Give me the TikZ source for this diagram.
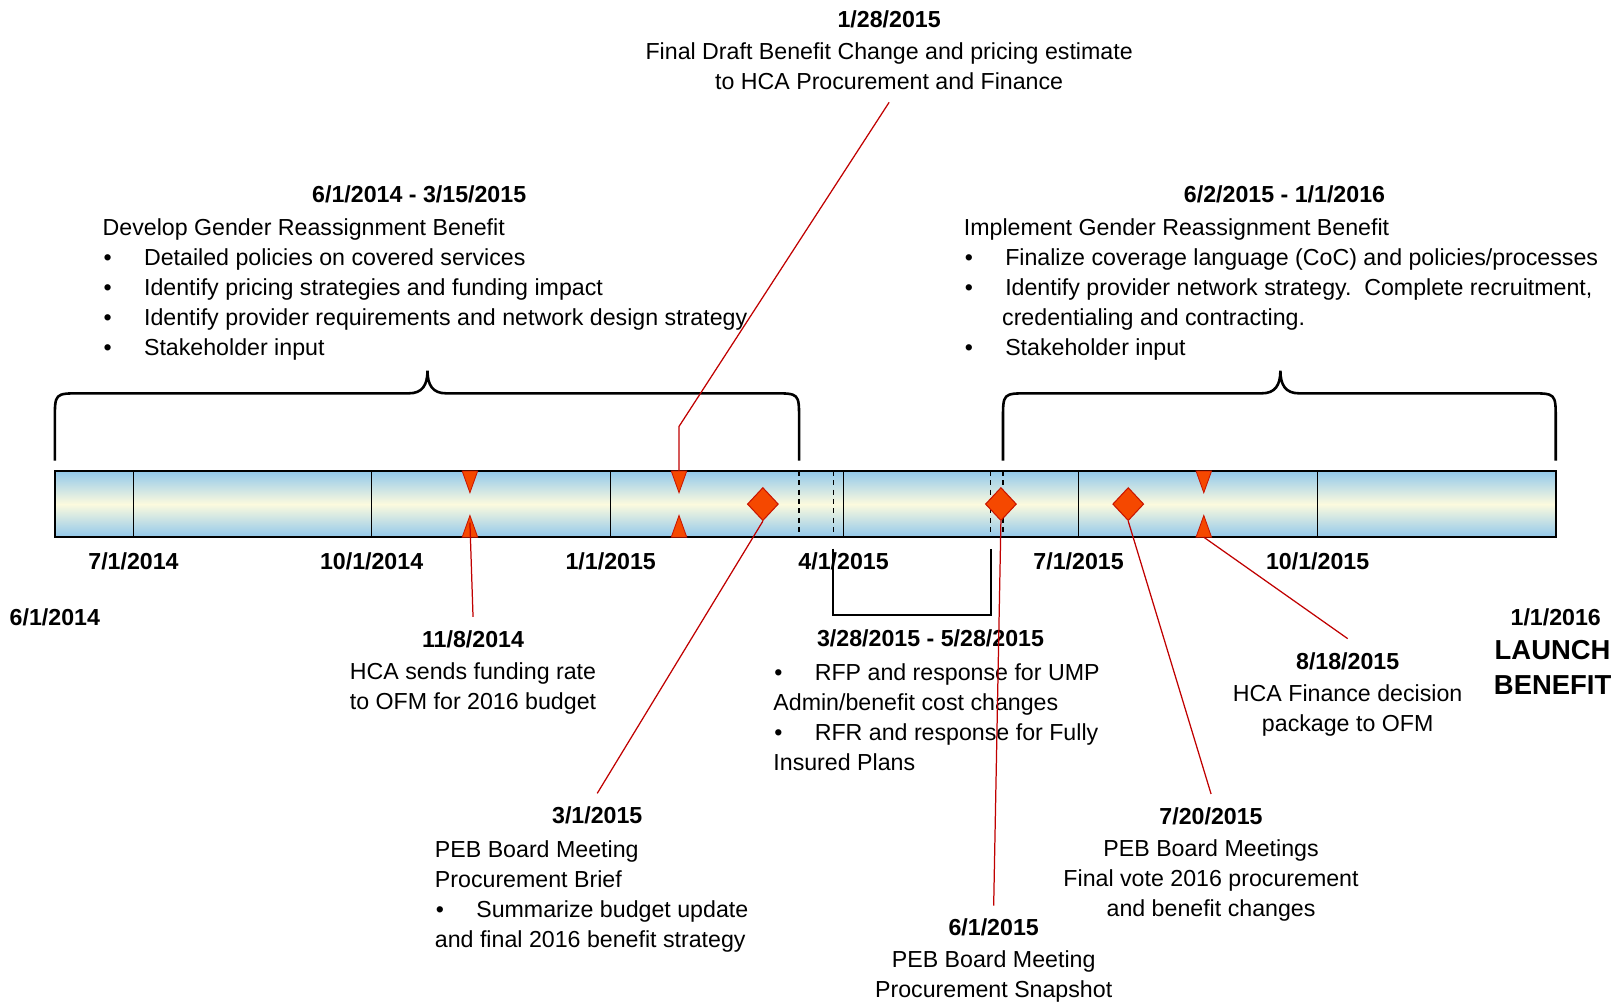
\documentclass[tikz,border=0pt]{standalone}
\usepackage{fontspec}
\setmainfont{Liberation Sans}
\usetikzlibrary{shapes.geometric}

\definecolor{barblue}{RGB}{145,200,235}
\definecolor{barcream}{RGB}{252,250,222}
\definecolor{markerfill}{RGB}{245,72,0}
\definecolor{markeredge}{RGB}{200,20,0}
\definecolor{connred}{RGB}{192,0,0}

\newcommand{\tlbullet}{\makebox[40pt][l]{\hspace{1pt}\textbullet}}

\begin{document}
\begin{tikzpicture}[x=1pt, y=-1pt,
    every node/.style={font=\fontsize{22.4}{29}\selectfont},
    datelbl/.style={font=\fontsize{22.4}{29}\selectfont\bfseries},
    txtblock/.style={inner sep=0pt, align=left},
    ctrblock/.style={inner sep=0pt, align=center, anchor=north},
    tick/.style={line width=1.3pt},
    brace/.style={line width=2.5pt},
    diam/.style={shape=diamond, draw=markeredge, fill=markerfill, line width=1pt,
                 minimum width=30pt, minimum height=32pt, inner sep=0pt},
    tri/.style={draw=markeredge, fill=markerfill, line width=0.8pt},
    conn/.style={draw=connred, line width=1.2pt}]

    \useasboundingbox (0,0) rectangle (1568,969);

    % timeline bar
    \shade[top color=barblue, bottom color=barblue, middle color=barcream] (53,455) rectangle (1503,519);
    \foreach \x in {129,359,590,815,1042,1273}
        \draw[tick] (\x,455) -- (\x,519);
    \foreach \x in {772,805,957,969}
        \draw[tick, dash pattern=on 5pt off 4pt] (\x,455) -- (\x,519);
    \draw[line width=2pt] (53,455) rectangle (1503,519);

    % braces
    \draw[brace] (53,445) -- (53,405) .. controls (53,380) .. (78,380) -- (395,380)
        .. controls (408,380) and (413,372) .. (413,358)
        .. controls (413,372) and (418,380) .. (431,380) -- (747,380)
        .. controls (772,380) .. (772,405) -- (772,445);
    \draw[brace] (969,445) -- (969,405) .. controls (969,380) .. (994,380) -- (1219,380)
        .. controls (1232,380) and (1237,372) .. (1237,358)
        .. controls (1237,372) and (1242,380) .. (1255,380) -- (1478,380)
        .. controls (1503,380) .. (1503,405) -- (1503,445);
    \draw[line width=2pt] (805,530) -- (805,594) -- (957,594) -- (957,530);

    % markers
    \foreach \x in {454,656,1163} {
        \draw[tri] (\x-7.5,455) -- (\x+7.5,455) -- (\x,476) -- cycle;
        \draw[tri] (\x-7.5,519) -- (\x+7.5,519) -- (\x,498) -- cycle;
    }
    \coordinate (m128) at (656,455);
    \coordinate (m1108) at (454,505);
    \coordinate (m818) at (1163,519);
    \node[diam] (dm301) at (737,487) {};
    \node[diam] (dm601) at (967,487) {};
    \node[diam] (dm720) at (1090,487) {};

    % dates along the bar
    \node[datelbl] (d0701) at (129,542) {7/1/2014};
    \node[datelbl] (d1001) at (359,542) {10/1/2014};
    \node[datelbl] (d0101) at (590,542) {1/1/2015};
    \node[datelbl] (d0401) at (815,542) {4/1/2015};
    \node[datelbl] (d0715) at (1042,542) {7/1/2015};
    \node[datelbl] (d1015) at (1273,542) {10/1/2015};
    \node[datelbl] (start) at (53,596) {6/1/2014};
    \node[datelbl] (end) at (1503,596) {1/1/2016};
    \node[font=\fontsize{26.5}{34}\selectfont\bfseries, ctrblock] (launch) at (1500,618) {LAUNCH\\BENEFIT};

    % top texts
    \node[ctrblock] (n128) at (859,10) {\textbf{1/28/2015}\\[2pt]
        Final Draft Benefit Change and pricing estimate\\
        to HCA Procurement and Finance};
    \node[datelbl] (p1) at (405,188) {6/1/2014 - 3/15/2015};
    \node[txtblock, anchor=north west] (p1txt) at (99,211) {Develop Gender Reassignment Benefit\\
        \tlbullet Detailed policies on covered services\\
        \tlbullet Identify pricing strategies and funding impact\\
        \tlbullet Identify provider requirements and network design strategy\\
        \tlbullet Stakeholder input};
    \node[datelbl] (p2) at (1241,188) {6/2/2015 - 1/1/2016};
    \node[txtblock, anchor=north west] (p2txt) at (931,211) {Implement Gender Reassignment Benefit\\
        \tlbullet Finalize coverage language (CoC) and policies/processes\\
        \tlbullet Identify provider network strategy.\ \ Complete recruitment,\\
        \hspace*{37pt}credentialing and contracting.\\
        \tlbullet Stakeholder input};

    % bottom texts
    \node[ctrblock] (n1108) at (457,609) {\textbf{11/8/2014}\\[2pt]
        HCA sends funding rate\\
        to OFM for 2016 budget};
    \node[datelbl] (p3) at (899,617) {3/28/2015 - 5/28/2015};
    \node[txtblock, anchor=north west] (p3txt) at (747,641) {\tlbullet RFP and response for UMP\\
        Admin/benefit cost changes\\
        \tlbullet RFR and response for Fully\\
        Insured Plans};
    \node[ctrblock] (n0818) at (1302,630) {\textbf{8/18/2015}\\[2pt]
        HCA Finance decision\\
        package to OFM};
    \node[datelbl, inner sep=0pt] (t0301) at (577,788) {3/1/2015};
    \node[txtblock, anchor=north west] (n0301) at (420,812) {PEB Board Meeting\\
        Procurement Brief\\
        \tlbullet Summarize budget update\\
        and final 2016 benefit strategy};
    \node[ctrblock] (n0720) at (1170,780) {\textbf{7/20/2015}\\[2pt]
        PEB Board Meetings\\
        Final vote 2016 procurement\\
        and benefit changes};
    \node[ctrblock] (n0601) at (960,887) {\textbf{6/1/2015}\\[2pt]
        PEB Board Meeting\\
        Procurement Snapshot};

    % connectors
    \draw[conn] ([yshift=-12pt]n128.south) -- ([yshift=43pt]m128) -- (m128);
    \draw[conn] (m1108) -- ([yshift=13pt]n1108.north);
    \draw[conn] (dm301.south) -- ([yshift=13pt]t0301.north);
    \draw[conn] (dm601.south) -- ([yshift=12pt]n0601.north);
    \draw[conn] (dm720.south) -- ([yshift=13pt]n0720.north);
    \draw[conn] (m818) -- ([yshift=13pt]n0818.north);
\end{tikzpicture}
\end{document}
